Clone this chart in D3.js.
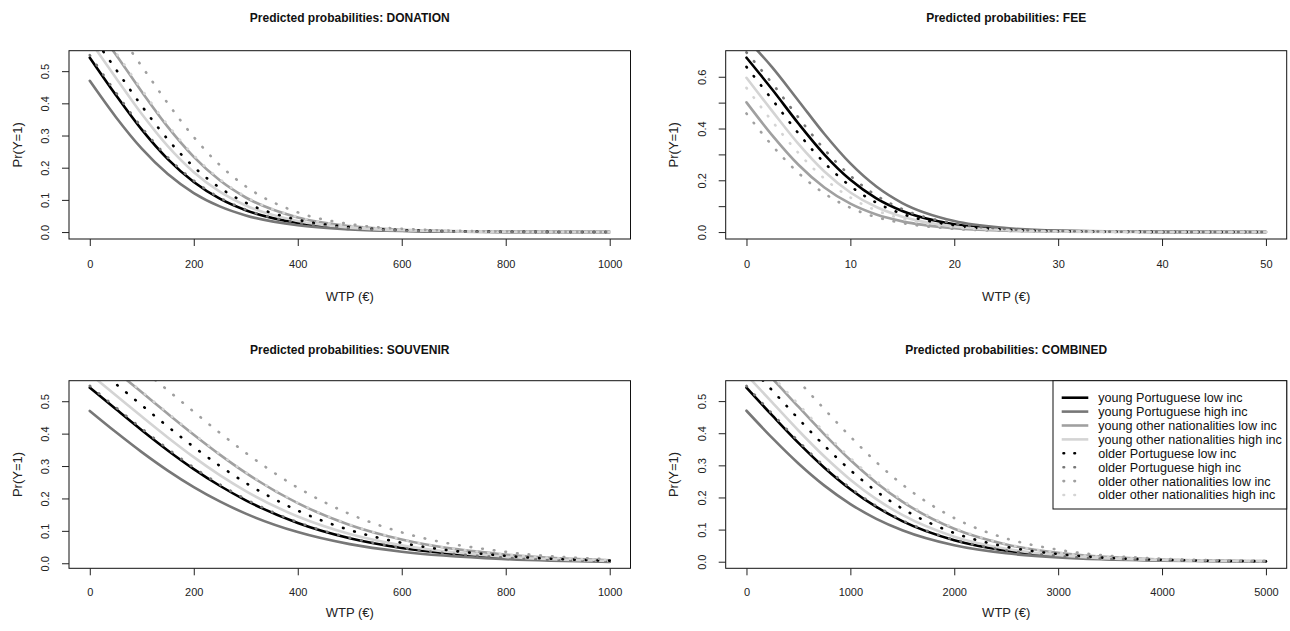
<!DOCTYPE html>
<html>
<head>
<meta charset="utf-8">
<script src="https://cdn.jsdelivr.net/npm/d3@7"></script>
<style>
  body { margin: 0; background: #fff; }
  svg { display: block; font-family: "Liberation Sans", Arial, Helvetica, sans-serif; }
</style>
</head>
<body>
<svg id="chart" width="1290" height="631"></svg>
<script>
// legend order (also drawing order)
const seriesNames = [
  "young Portuguese low inc",
  "young Portuguese high inc",
  "young other nationalities low inc",
  "young other nationalities high inc",
  "older Portuguese low inc",
  "older Portuguese high inc",
  "older other nationalities low inc",
  "older other nationalities high inc"
];
const seriesColors = ["#000000", "#777777", "#a0a0a0", "#d4d4d4", "#000000", "#777777", "#a0a0a0", "#d4d4d4"];
const seriesDotted = [false, false, false, false, true, true, true, true];

// DONATION
const donationWtp = [0, 50, 100, 150, 200, 250, 300, 400, 500, 600, 800, 1000];
const donationProb = [
  [0.5419, 0.4263, 0.3182, 0.2267, 0.1555, 0.1037, 0.0678, 0.0279, 0.0112, 0.0044, 0.0007, 0.0001],
  [0.4700, 0.3578, 0.2592, 0.1802, 0.1213, 0.0798, 0.0517, 0.0211, 0.0084, 0.0033, 0.0005, 0.0001],
  [0.6619, 0.5516, 0.4359, 0.3267, 0.2336, 0.1607, 0.1074, 0.0453, 0.0184, 0.0073, 0.0012, 0.0002],
  [0.5948, 0.4798, 0.3668, 0.2668, 0.1860, 0.1255, 0.0827, 0.0344, 0.0139, 0.0055, 0.0009, 0.0001],
  [0.6201, 0.5062, 0.3918, 0.2880, 0.2026, 0.1376, 0.0911, 0.0381, 0.0154, 0.0061, 0.0010, 0.0001],
  [0.5498, 0.4341, 0.3252, 0.2324, 0.1598, 0.1067, 0.0698, 0.0288, 0.0115, 0.0046, 0.0007, 0.0001],
  [0.7291, 0.6283, 0.5150, 0.4001, 0.2953, 0.2083, 0.1419, 0.0612, 0.0251, 0.0100, 0.0016, 0.0002],
  [0.6682, 0.5585, 0.4428, 0.3329, 0.2387, 0.1645, 0.1101, 0.0465, 0.0189, 0.0075, 0.0012, 0.0002]
];

// FEE
const feeWtp = [0, 2.5, 5, 7.5, 10, 12.5, 15, 20, 25, 30, 40, 50];
const feeProb = [
  [0.6737, 0.5498, 0.4195, 0.2994, 0.2018, 0.1301, 0.0813, 0.0300, 0.0107, 0.0038, 0.0005, 0.0001],
  [0.7465, 0.6353, 0.5075, 0.3787, 0.2650, 0.1758, 0.1120, 0.0423, 0.0152, 0.0054, 0.0007, 0.0001],
  [0.5010, 0.3726, 0.2600, 0.1721, 0.1095, 0.0678, 0.0413, 0.0148, 0.0052, 0.0018, 0.0002, 0.0000],
  [0.5960, 0.4661, 0.3405, 0.2340, 0.1530, 0.0966, 0.0595, 0.0216, 0.0077, 0.0027, 0.0003, 0.0000],
  [0.6381, 0.5105, 0.3815, 0.2674, 0.1776, 0.1133, 0.0702, 0.0258, 0.0092, 0.0032, 0.0004, 0.0000],
  [0.6943, 0.5732, 0.4428, 0.3197, 0.2176, 0.1412, 0.0887, 0.0329, 0.0118, 0.0042, 0.0005, 0.0001],
  [0.4581, 0.3334, 0.2283, 0.1489, 0.0938, 0.0577, 0.0350, 0.0125, 0.0044, 0.0016, 0.0002, 0.0000],
  [0.5570, 0.4265, 0.3055, 0.2065, 0.1334, 0.0835, 0.0511, 0.0185, 0.0066, 0.0023, 0.0003, 0.0000]
];

// SOUVENIR
const souvenirWtp = [0, 50, 100, 150, 200, 250, 300, 400, 500, 600, 800, 1000];
const souvenirProb = [
  [0.5419, 0.4758, 0.4105, 0.3482, 0.2907, 0.2392, 0.1943, 0.1243, 0.0771, 0.0469, 0.0168, 0.0059],
  [0.4700, 0.4049, 0.3430, 0.2860, 0.2350, 0.1908, 0.1532, 0.0962, 0.0590, 0.0356, 0.0126, 0.0044],
  [0.6548, 0.5927, 0.5275, 0.4613, 0.3965, 0.3351, 0.2789, 0.1854, 0.1182, 0.0731, 0.0266, 0.0094],
  [0.5842, 0.5187, 0.4526, 0.3882, 0.3274, 0.2719, 0.2227, 0.1443, 0.0903, 0.0552, 0.0198, 0.0070],
  [0.6177, 0.5535, 0.4875, 0.4219, 0.3589, 0.3005, 0.2479, 0.1625, 0.1025, 0.0630, 0.0228, 0.0080],
  [0.5474, 0.4813, 0.4158, 0.3532, 0.2953, 0.2432, 0.1978, 0.1267, 0.0787, 0.0479, 0.0171, 0.0060],
  [0.7171, 0.6604, 0.5987, 0.5337, 0.4675, 0.4025, 0.3407, 0.2333, 0.1519, 0.0953, 0.0352, 0.0125],
  [0.6570, 0.5951, 0.5300, 0.4638, 0.3989, 0.3374, 0.2809, 0.1870, 0.1192, 0.0738, 0.0269, 0.0095]
];

// COMBINED
const combinedWtp = [0, 250, 500, 750, 1000, 1250, 1500, 2000, 2500, 3000, 4000, 5000];
const combinedProb = [
  [0.5419, 0.4546, 0.3700, 0.2928, 0.2258, 0.1705, 0.1265, 0.0671, 0.0345, 0.0174, 0.0044, 0.0011],
  [0.4700, 0.3846, 0.3058, 0.2369, 0.1795, 0.1335, 0.0980, 0.0512, 0.0261, 0.0131, 0.0033, 0.0008],
  [0.6525, 0.5695, 0.4825, 0.3965, 0.3165, 0.2460, 0.1870, 0.1025, 0.0536, 0.0274, 0.0069, 0.0017],
  [0.5818, 0.4950, 0.4085, 0.3274, 0.2554, 0.1947, 0.1455, 0.0780, 0.0403, 0.0204, 0.0051, 0.0013],
  [0.6177, 0.5325, 0.4452, 0.3612, 0.2850, 0.2193, 0.1652, 0.0895, 0.0465, 0.0237, 0.0059, 0.0015],
  [0.5474, 0.4601, 0.3752, 0.2973, 0.2297, 0.1736, 0.1290, 0.0685, 0.0352, 0.0178, 0.0045, 0.0011],
  [0.7211, 0.6457, 0.5622, 0.4750, 0.3894, 0.3100, 0.2405, 0.1359, 0.0724, 0.0373, 0.0095, 0.0024],
  [0.6592, 0.5769, 0.4900, 0.4037, 0.3230, 0.2516, 0.1915, 0.1053, 0.0552, 0.0282, 0.0071, 0.0018]
];

// tick values
const xTicksThousand = [0, 200, 400, 600, 800, 1000];
const xTicksFee = [0, 10, 20, 30, 40, 50];
const xTicksCombined = [0, 1000, 2000, 3000, 4000, 5000];
const yTicksMain = [0, 0.1, 0.2, 0.3, 0.4, 0.5];
const yTicksFee = [0, 0.1, 0.2, 0.3, 0.4, 0.5, 0.6];
const yLabelsFee = [0, 0.2, 0.4, 0.6];

const svg = d3.select("#chart");
const TICK_FONT = 11;
const LAB_FONT = 13;

// plot boxes and text rows
const rows = [
  { top: 50.7, bottom: 239, title: 22, tickPad: 14, xlab: 301 },
  { top: 380.7, bottom: 568.3, title: 354, tickPad: 13, xlab: 617 }
];
const cols = [{ left: 69, right: 630.5 }, { left: 725.7, right: 1286.7 }];

const panels = [
  { name: "DONATION", wtp: donationWtp, prob: donationProb, xTicks: xTicksThousand, yTicks: yTicksMain, yLabels: yTicksMain, r: 0, c: 0 },
  { name: "FEE", wtp: feeWtp, prob: feeProb, xTicks: xTicksFee, yTicks: yTicksFee, yLabels: yLabelsFee, r: 0, c: 1 },
  { name: "SOUVENIR", wtp: souvenirWtp, prob: souvenirProb, xTicks: xTicksThousand, yTicks: yTicksMain, yLabels: yTicksMain, r: 1, c: 0 },
  { name: "COMBINED", wtp: combinedWtp, prob: combinedProb, xTicks: xTicksCombined, yTicks: yTicksMain, yLabels: yTicksMain, r: 1, c: 1 }
];

// R style: range of the data plus 4% on each side
function rRange(values) {
  const [lo, hi] = d3.extent(values);
  const pad = (hi - lo) * 0.04;
  return [lo - pad, hi + pad];
}

panels.forEach((p, k) => {
  const row = rows[p.r], col = cols[p.c];
  const g = svg.append("g");

  const x = d3.scaleLinear().domain(rRange(p.wtp)).range([col.left, col.right]);
  // y limits come from the first curve, as plot() does
  const y = d3.scaleLinear().domain(rRange(p.prob[0])).range([row.bottom, row.top]);

  const clipId = "clip" + k;
  g.append("clipPath").attr("id", clipId)
    .append("rect")
    .attr("x", col.left).attr("y", row.top)
    .attr("width", col.right - col.left).attr("height", row.bottom - row.top);

  const line = d3.line()
    .x((d, i) => x(p.wtp[i]))
    .y(d => y(d))
    .curve(d3.curveMonotoneX);

  g.append("g").attr("clip-path", `url(#${clipId})`)
    .selectAll("path")
    .data(p.prob)
    .join("path")
    .attr("d", line)
    .attr("fill", "none")
    .attr("stroke", (d, i) => seriesColors[i])
    .attr("stroke-width", 2.6)
    .attr("stroke-linecap", "round")
    .attr("stroke-dasharray", (d, i) => seriesDotted[i] ? "0.6,11.1" : null);

  // box
  g.append("rect")
    .attr("x", col.left).attr("y", row.top)
    .attr("width", col.right - col.left).attr("height", row.bottom - row.top)
    .attr("fill", "none").attr("stroke", "#111").attr("stroke-width", 1);

  // x axis
  const xa = g.append("g")
    .attr("transform", `translate(0,${row.bottom})`)
    .call(d3.axisBottom(x).tickValues(p.xTicks).tickSize(7).tickPadding(row.tickPad).tickFormat(d3.format("d")));
  xa.select(".domain").remove();
  xa.selectAll("line").attr("stroke", "#222");
  xa.selectAll("text").attr("font-size", TICK_FONT).attr("fill", "#222").attr("font-family", null);

  // y axis, labels parallel to the axis
  const ya = g.append("g")
    .attr("transform", `translate(${col.left},0)`)
    .call(d3.axisLeft(y).tickValues(p.yTicks).tickSize(7)
      .tickFormat(d => p.yLabels.some(v => Math.abs(v - d) < 1e-9) ? d3.format(".1f")(d) : ""));
  ya.select(".domain").remove();
  ya.selectAll("line").attr("stroke", "#222");
  ya.selectAll("text")
    .attr("font-size", TICK_FONT).attr("fill", "#222").attr("font-family", null)
    .attr("x", null).attr("dy", "0.35em")
    .attr("text-anchor", "middle")
    .attr("transform", "translate(-24,0) rotate(-90)");

  const cx = (col.left + col.right) / 2;
  g.append("text")
    .attr("x", cx).attr("y", row.title)
    .attr("text-anchor", "middle")
    .attr("font-weight", "bold").attr("font-size", 12).attr("fill", "#111")
    .text("Predicted probabilities: " + p.name);

  g.append("text")
    .attr("x", cx).attr("y", row.xlab)
    .attr("text-anchor", "middle")
    .attr("font-size", LAB_FONT).attr("fill", "#222")
    .text("WTP (€)");

  g.append("text")
    .attr("transform", `translate(${col.left - 52},${(row.top + row.bottom) / 2}) rotate(-90)`)
    .attr("dy", "0.35em")
    .attr("text-anchor", "middle")
    .attr("font-size", LAB_FONT).attr("fill", "#222")
    .text("Pr(Y=1)");

  // legend in the COMBINED panel, top right
  if (p.name === "COMBINED") {
    const lg = g.append("g");
    const lx = 1053, ly = row.top, lw = col.right - lx, lh = 128.3;
    lg.append("rect")
      .attr("x", lx).attr("y", ly).attr("width", lw).attr("height", lh)
      .attr("fill", "#fff").attr("stroke", "#111").attr("stroke-width", 1);
    const item = lg.selectAll("g.item")
      .data(seriesNames)
      .join("g")
      .attr("class", "item")
      .attr("transform", (d, i) => `translate(${lx},${ly + 17 + i * 13.9})`);
    item.append("line")
      .attr("x1", (d, i) => seriesDotted[i] ? 10.5 : 8.7)
      .attr("x2", (d, i) => seriesDotted[i] ? 22 : 35.3)
      .attr("stroke", (d, i) => seriesColors[i])
      .attr("stroke-width", 2.6)
      .attr("stroke-linecap", (d, i) => seriesDotted[i] ? "round" : "butt")
      .attr("stroke-dasharray", (d, i) => seriesDotted[i] ? "0.6,10.3" : null);
    item.append("text")
      .attr("x", 45.3).attr("dy", "0.35em")
      .attr("font-size", 12.6).attr("fill", "#111")
      .text(d => d);
  }
});
</script>
</body>
</html>
